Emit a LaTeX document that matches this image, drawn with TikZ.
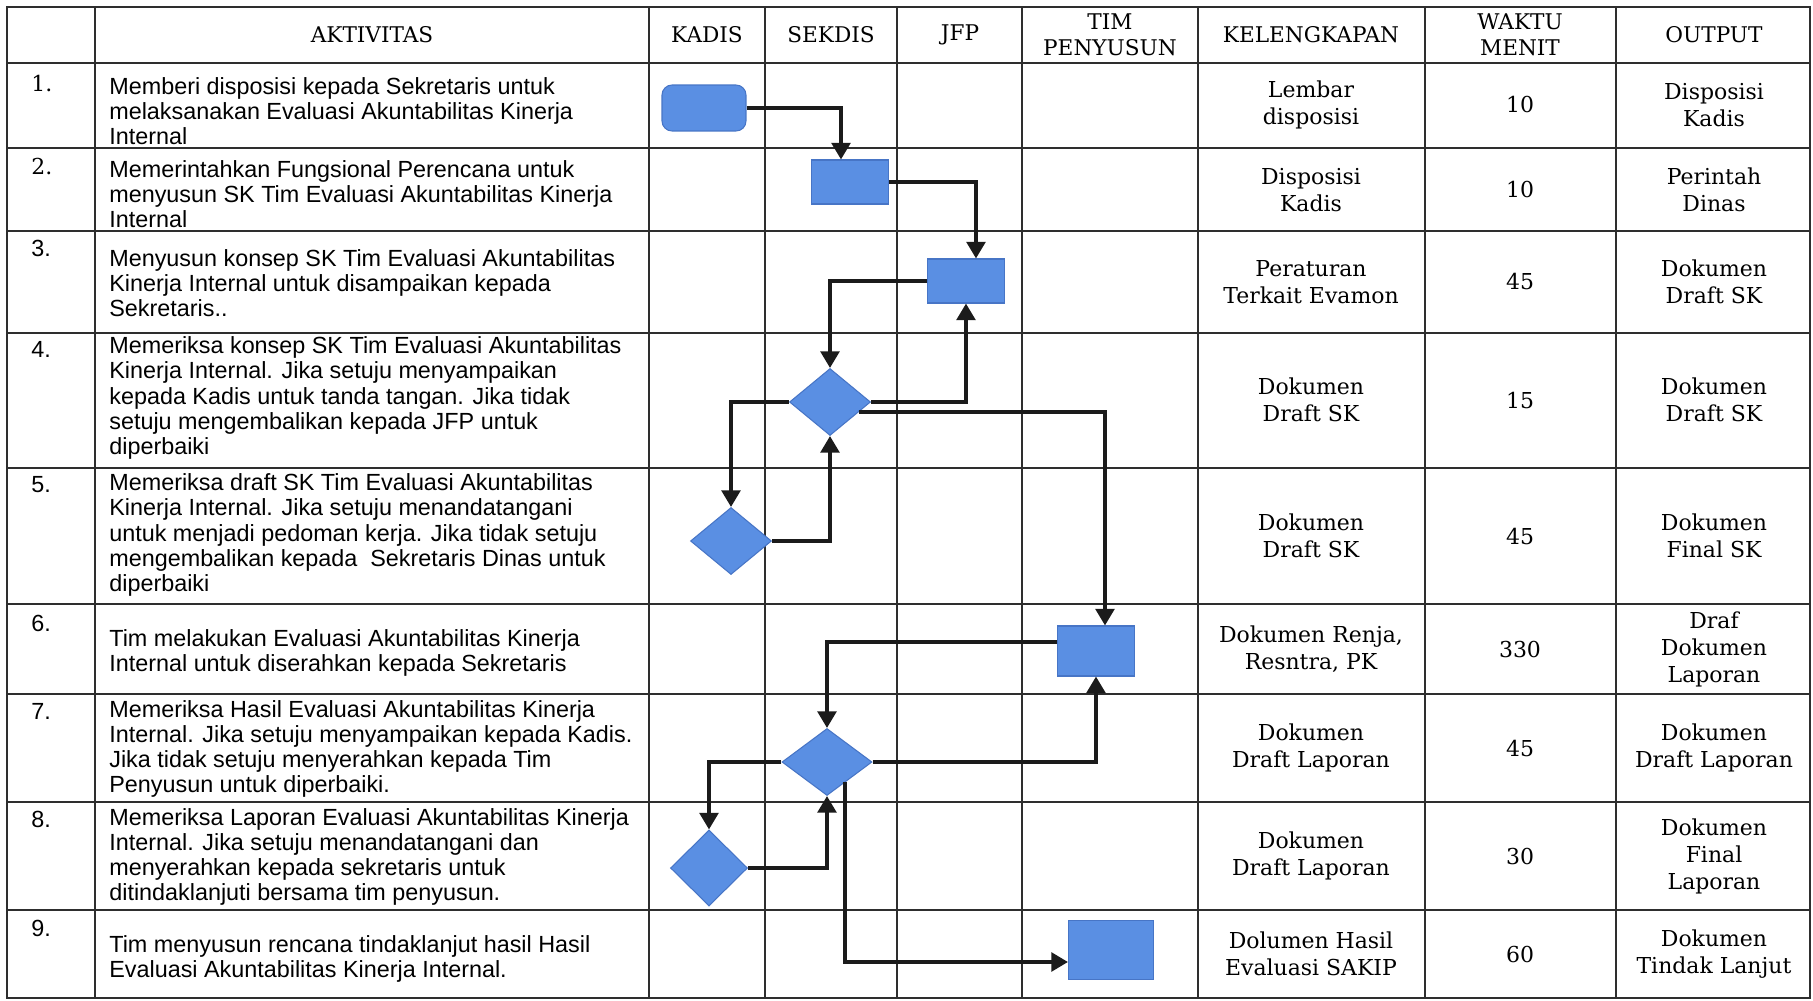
\documentclass[tikz,border=0pt]{standalone}
\usepackage{fontspec}
\setmainfont{DejaVu Serif}
\newfontfamily\actfont{Liberation Sans}
\usetikzlibrary{positioning,shapes.geometric,arrows.meta,calc}

\definecolor{boxblue}{HTML}{5A8FE3}
\definecolor{boxedge}{HTML}{4775C6}
\definecolor{gridgray}{HTML}{2E2E2E}
\definecolor{flowblack}{HTML}{1B1B1B}

\begin{document}
\begin{tikzpicture}[
  x=0.02cm, y=-0.02cm,
  tableline/.style={draw=gridgray, line width=1.1pt},
  head/.style={align=center, inner sep=0pt, font=\fontsize{12.3}{14.8}\selectfont},
  num/.style={anchor=north west, inner sep=0pt, font=\actfont\fontsize{13.3}{14}\selectfont},
  act/.style={anchor=west, align=left, inner sep=0pt, font=\actfont\fontsize{13.3}{14.3}\selectfont},
  info/.style={align=center, inner sep=0pt, font=\fontsize{12.5}{15.4}\selectfont},
  taskbox/.style={rectangle, draw=boxedge, fill=boxblue, line width=0.6pt, minimum width=1.54cm, minimum height=0.88cm, inner sep=0pt},
  firstbox/.style={taskbox, rounded corners=0.2cm, minimum width=1.68cm, minimum height=0.92cm},
  checkbox/.style={diamond, draw=boxedge, fill=boxblue, line width=0.6pt, inner sep=0pt, minimum width=1.62cm, minimum height=1.34cm},
  flow/.style={draw=flowblack, line width=2.1pt, -{Triangle[length=0.33cm, width=0.37cm]}}
]

% Page and frame
\fill[white] (0,0) rectangle (1813,1001);
\useasboundingbox (0,0) rectangle (1813,1001);

% Table lines
\draw[tableline] (7,7) rectangle (1810,998);
\draw[tableline] (95,7) -- (95,998) (649,7) -- (649,998) (765,7) -- (765,998)
  (897,7) -- (897,998) (1022,7) -- (1022,998) (1198,7) -- (1198,998)
  (1425,7) -- (1425,998) (1616,7) -- (1616,998);
\draw[tableline] (7,63) -- (1810,63) (7,148) -- (1810,148) (7,231) -- (1810,231)
  (7,333) -- (1810,333) (7,468) -- (1810,468) (7,604) -- (1810,604)
  (7,694) -- (1810,694) (7,802) -- (1810,802) (7,910) -- (1810,910);

% Header row
\node[head] (h-akt) at (372,35) {AKTIVITAS};
\node[head] (h-kadis) at (707,35) {KADIS};
\node[head] (h-sekdis) at (831,35) {SEKDIS};
\node[head] (h-jfp) at (960,35) {JFP};
\node[head] (h-tim) at (1110,35) {TIM\\PENYUSUN};
\node[head] (h-kel) at (1311,35) {KELENGKAPAN};
\node[head] (h-waktu) at (1520,35) {WAKTU\\MENIT};
\node[head] (h-out) at (1714,35) {OUTPUT};

% Row 1
\node[num, font=\fontsize{12.5}{15}\selectfont] (n-1) at (31,75) {1.};
\node[act] (a-1) at (109,111) {Memberi disposisi kepada Sekretaris untuk\\melaksanakan Evaluasi Akuntabilitas Kinerja\\Internal};
\node[info] (k-1) at (1311,105) {Lembar\\disposisi};
\node[info] (w-1) at (1520,105) {10};
\node[info] (o-1) at (1714,105) {Disposisi\\Kadis};

% Row 2
\node[num, font=\fontsize{12.5}{15}\selectfont] (n-2) at (31,158) {2.};
\node[act] (a-2) at (109,194) {Memerintahkan Fungsional Perencana untuk\\menyusun SK Tim Evaluasi Akuntabilitas Kinerja\\Internal};
\node[info] (k-2) at (1311,190) {Disposisi\\Kadis};
\node[info] (w-2) at (1520,190) {10};
\node[info] (o-2) at (1714,190) {Perintah\\Dinas};

% Row 3
\node[num] (n-3) at (31,240) {3.};
\node[act] (a-3) at (109,283) {Menyusun konsep SK Tim Evaluasi Akuntabilitas\\Kinerja Internal untuk disampaikan kepada\\Sekretaris..};
\node[info] (k-3) at (1311,282) {Peraturan\\Terkait Evamon};
\node[info] (w-3) at (1520,282) {45};
\node[info] (o-3) at (1714,282) {Dokumen\\Draft SK};

% Row 4
\node[num] (n-4) at (31,341) {4.};
\node[act] (a-4) at (109,398) {Memeriksa konsep SK Tim Evaluasi Akuntabilitas\\Kinerja Internal. Jika setuju menyampaikan\\kepada Kadis untuk tanda tangan. Jika tidak\\setuju mengembalikan kepada JFP untuk\\diperbaiki};
\node[info] (k-4) at (1311,400) {Dokumen\\Draft SK};
\node[info] (w-4) at (1520,400) {15};
\node[info] (o-4) at (1714,400) {Dokumen\\Draft SK};

% Row 5
\node[num] (n-5) at (31,476) {5.};
\node[act] (a-5) at (109,535) {Memeriksa draft SK Tim Evaluasi Akuntabilitas\\Kinerja Internal. Jika setuju menandatangani\\untuk menjadi pedoman kerja. Jika tidak setuju\\mengembalikan kepada~ Sekretaris Dinas untuk\\diperbaiki};
\node[info] (k-5) at (1311,536) {Dokumen\\Draft SK};
\node[info] (w-5) at (1520,536) {45};
\node[info] (o-5) at (1714,536) {Dokumen\\Final SK};

% Row 6
\node[num] (n-6) at (31,615) {6.};
\node[act] (a-6) at (109,653) {Tim melakukan Evaluasi Akuntabilitas Kinerja\\Internal untuk diserahkan kepada Sekretaris};
\node[info] (k-6) at (1311,649) {Dokumen Renja,\\Resntra, PK};
\node[info] (w-6) at (1520,649) {330};
\node[info] (o-6) at (1714,649) {Draf\\Dokumen\\Laporan};

% Row 7
\node[num] (n-7) at (31,703) {7.};
\node[act] (a-7) at (109,749) {Memeriksa Hasil Evaluasi Akuntabilitas Kinerja\\Internal. Jika setuju menyampaikan kepada Kadis.\\Jika tidak setuju menyerahkan kepada Tim\\Penyusun untuk diperbaiki.};
\node[info] (k-7) at (1311,748) {Dokumen\\Draft Laporan};
\node[info] (w-7) at (1520,748) {45};
\node[info] (o-7) at (1714,748) {Dokumen\\Draft Laporan};

% Row 8
\node[num] (n-8) at (31,811) {8.};
\node[act] (a-8) at (109,857) {Memeriksa Laporan Evaluasi Akuntabilitas Kinerja\\Internal. Jika setuju menandatangani dan\\menyerahkan kepada sekretaris untuk\\ditindaklanjuti bersama tim penyusun.};
\node[info] (k-8) at (1311,856) {Dokumen\\Draft Laporan};
\node[info] (w-8) at (1520,856) {30};
\node[info] (o-8) at (1714,856) {Dokumen\\Final\\Laporan};

% Row 9
\node[num] (n-9) at (31,920) {9.};
\node[act] (a-9) at (109,959) {Tim menyusun rencana tindaklanjut hasil Hasil\\Evaluasi Akuntabilitas Kinerja Internal.};
\node[info] (k-9) at (1311,954) {Dolumen Hasil\\Evaluasi SAKIP};
\node[info] (w-9) at (1520,954) {60};
\node[info] (o-9) at (1714,954) {Dokumen\\Tindak Lanjut};

% Flow shapes
\node[firstbox] (kadis-1) at (704,108) {};
\node[taskbox] (sekdis-2) at (850,182) {};
\node[taskbox] (jfp-3) at (966,281) {};
\node[checkbox] (sekdis-4) at (830,402) {};
\node[checkbox] (kadis-5) at (731,541) {};
\node[taskbox, minimum height=1cm] (tim-6) at (1096,651) {};
\node[checkbox, minimum width=1.8cm] (sekdis-7) at (827,762) {};
\node[checkbox, minimum width=1.54cm, minimum height=1.52cm] (kadis-8) at (709,868) {};
\node[taskbox, minimum width=1.7cm, minimum height=1.18cm] (tim-9) at (1111,950) {};

% Connectors
\draw[flow] (kadis-1.east) -| ([xshift=-0.18cm]sekdis-2.north);
\draw[flow] (sekdis-2.east) -| ([xshift=0.2cm]jfp-3.north);
\draw[flow] (jfp-3.west) -| (sekdis-4.north);
\draw[flow] (sekdis-4.east) -| (jfp-3.south);
\draw[flow] ($(sekdis-4.east)!0.3!(sekdis-4.south)$) -| ([xshift=0.18cm]tim-6.north);
\draw[flow] (sekdis-4.west) -| (kadis-5.north);
\draw[flow] (kadis-5.east) -| (sekdis-4.south);
\draw[flow] ([yshift=0.18cm]tim-6.west) -| (sekdis-7.north);
\draw[flow] (sekdis-7.east) -| (tim-6.south);
\draw[flow] (sekdis-7.west) -| (kadis-8.north);
\draw[flow] (kadis-8.east) -| (sekdis-7.south);
\draw[flow] ($(sekdis-7.east)!0.6!(sekdis-7.south)$) |- ([yshift=-0.24cm]tim-9.west);

\end{tikzpicture}
\end{document}
